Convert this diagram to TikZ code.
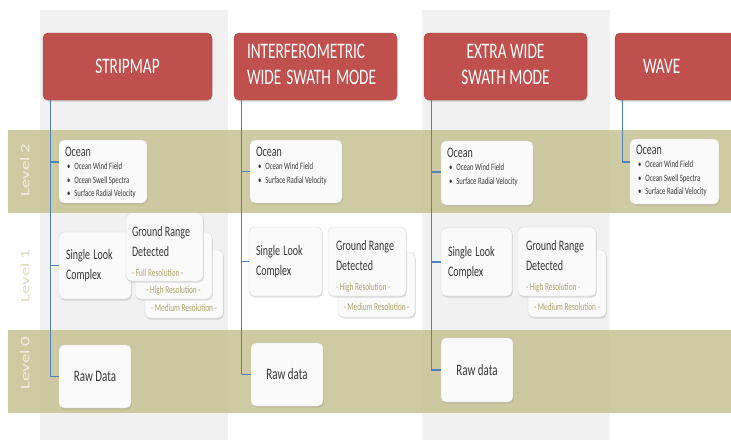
\documentclass[tikz,border=0pt]{standalone}
\usepackage{fontspec}
\setmainfont{Carlito}
\usepackage{graphicx}
\usetikzlibrary{positioning, shadows}
\definecolor{modeRed}{RGB}{192, 80, 77}
\definecolor{levelBand}{RGB}{201, 196, 152}
\definecolor{colGray}{RGB}{241, 241, 241}
\definecolor{linkBlue}{RGB}{79, 129, 189}
\definecolor{resText}{RGB}{172, 163, 105}
\definecolor{bodyText}{RGB}{55, 55, 55}
% the reference text is drawn tall and narrow
\newcommand{\tallt}[1]{\scalebox{1}[1.45]{#1}}
\newcommand{\bul}[1]{\hspace{2pt}\textbullet\hspace{4pt}#1}

\begin{document}
\begin{tikzpicture}[x=1pt, y=-1pt, font=\fontsize{10}{13.8}\selectfont, text=bodyText,
  mode/.style={draw=modeRed!85!black, fill=modeRed, rounded corners=5pt, text=white,
    font=\fontsize{15.3}{18}\selectfont, inner sep=0pt, minimum height=67,
    drop shadow={opacity=0.3, shadow xshift=0.5pt, shadow yshift=-1.5pt}},
  prod/.style={draw=gray!30, fill=white!96!gray, rounded corners=5pt, inner sep=0pt,
    drop shadow={opacity=0.25, shadow xshift=0.8pt, shadow yshift=-1.5pt}},
  oceantxt/.style={inner sep=0pt, font=\fontsize{6.7}{9.3}\selectfont},
  restxt/.style={inner sep=0pt, text=resText, font=\fontsize{7.3}{9}\selectfont},
  lvl/.style={inner sep=0pt, font=\fontsize{13}{15}\selectfont},
  link/.style={draw=linkBlue, line width=1.2pt}]
  \useasboundingbox (0,0) rectangle (731,440);
  \clip (0,0) rectangle (731,440);

  % Gray columns behind the modes
  \foreach \cx in {40, 422}
    \fill[colGray] (\cx,10) rectangle ++(188,430);
  % Level bands
  \foreach \ty/\by in {130/213, 330/413}
    \fill[levelBand, opacity=0.9] (8,\ty) rectangle (731,\by);
  \node[lvl, text=white!72!levelBand] (lev2) at (25,170) {\tallt{\rotatebox{90}{Level 2}}};
  \node[lvl, text=levelBand!62] (lev1) at (25,276) {\tallt{\rotatebox{90}{Level 1}}};
  \node[lvl, text=white!72!levelBand] (lev0) at (25,363) {\tallt{\rotatebox{90}{Level 0}}};

  % Mode headers
  \node[mode, minimum width=169] (stripmap) at (127.5,66.5) {\tallt{STRIPMAP}};
  \node[mode, text width=137, inner xsep=13, align=left] (iw) at (315.5,66.5)
    {\tallt{\begin{tabular}{@{}l@{}}INTERFEROMETRIC\\WIDE SWATH MODE\end{tabular}}};
  \node[mode, minimum width=163] (ew) at (505.5,66.5)
    {\tallt{\begin{tabular}{@{}c@{}}EXTRA WIDE\\SWATH MODE\end{tabular}}};
  \node[mode, text width=90, inner xsep=28, align=left] (wave) at (688,66.5) {\tallt{WAVE}};

  \coordinate (sm-top) at ([xshift=8pt]stripmap.south west);
  \coordinate (iw-top) at ([xshift=8pt]iw.south west);
  \coordinate (ew-top) at ([xshift=8pt]ew.south west);
  \coordinate (wv-top) at ([xshift=8pt]wave.south west);

  % Level 2: ocean products
  \node[prod, minimum width=88, minimum height=63] (ocean1) at (103,171.5) {};
  \node[prod, minimum width=92, minimum height=63] (ocean2) at (296,171.5) {};
  \node[prod, minimum width=92, minimum height=64] (ocean3) at (487,173) {};
  \node[prod, minimum width=89, minimum height=65] (ocean4) at (674.5,171.5) {};
  \node[oceantxt, anchor=north west] (ocean1txt) at ([xshift=6pt, yshift=-7pt]ocean1.north west)
    {\tallt{\begin{tabular}{@{}l@{}}{\fontsize{10}{11}\selectfont Ocean}\\
      \bul{Ocean Wind Field}\\ \bul{Ocean Swell Spectra}\\ \bul{Surface Radial Velocity}\end{tabular}}};
  \node[oceantxt, anchor=north west] (ocean2txt) at ([xshift=6pt, yshift=-7pt]ocean2.north west)
    {\tallt{\begin{tabular}{@{}l@{}}{\fontsize{10}{11}\selectfont Ocean}\\
      \bul{Ocean Wind Field}\\ \bul{Surface Radial Velocity}\end{tabular}}};
  \node[oceantxt, anchor=north west] (ocean3txt) at ([xshift=6pt, yshift=-7pt]ocean3.north west)
    {\tallt{\begin{tabular}{@{}l@{}}{\fontsize{10}{11}\selectfont Ocean}\\
      \bul{Ocean Wind Field}\\ \bul{Surface Radial Velocity}\end{tabular}}};
  \node[oceantxt, anchor=north west] (ocean4txt) at ([xshift=6pt, yshift=-6pt]ocean4.north west)
    {\tallt{\begin{tabular}{@{}l@{}}{\fontsize{10}{11}\selectfont Ocean}\\
      \bul{Ocean Wind Field}\\ \bul{Ocean Swell Spectra}\\ \bul{Surface Radial Velocity}\end{tabular}}};

  % Level 1: single look complex
  \node[prod, minimum height=67, text width=58, inner xsep=7, align=left] (slc1) at (95,265.5)
    {\tallt{\begin{tabular}{@{}l@{}}Single Look\\Complex\end{tabular}}};
  \node[prod, minimum height=69, text width=59, inner xsep=7, align=left] (slc2) at (285.5,261.5)
    {\tallt{\begin{tabular}{@{}l@{}}Single Look\\Complex\end{tabular}}};
  \node[prod, minimum height=68, text width=57, inner xsep=7, align=left] (slc3) at (476.5,262)
    {\tallt{\begin{tabular}{@{}l@{}}Single Look\\Complex\end{tabular}}};

  % Level 1: ground range detected, stacked by resolution
  \node[prod, minimum width=78, minimum height=68] (grd1c) at (184,284) {};
  \node[restxt, above=6pt of grd1c.south] (grd1ctxt) {\tallt{- Medium Resolution -}};
  \node[prod, minimum width=77, minimum height=67] (grd1b) at (173.5,265.5) {};
  \node[restxt, above=4pt of grd1b.south] (grd1btxt) {\tallt{- High Resolution -}};
  \node[prod, minimum width=77, minimum height=68] (grd1) at (164.5,247) {};
  \node[anchor=north west, inner sep=0pt] (grd1txt) at ([xshift=6pt, yshift=-9pt]grd1.north west)
    {\tallt{\begin{tabular}{@{}l@{}}Ground Range\\Detected\\
      {\color{resText}\fontsize{7.3}{9}\selectfont - Full Resolution -}\end{tabular}}};

  \node[prod, minimum width=77, minimum height=65] (grd2b) at (376.5,284.5) {};
  \node[restxt, above=6pt of grd2b.south] (grd2btxt) {\tallt{- Medium Resolution -}};
  \node[prod, minimum width=78, minimum height=69] (grd2) at (367,261.5) {};
  \node[anchor=north west, inner sep=0pt] (grd2txt) at ([xshift=8pt, yshift=-9pt]grd2.north west)
    {\tallt{\begin{tabular}{@{}l@{}}Ground Range\\Detected\\
      {\color{resText}\fontsize{7.3}{9}\selectfont - High Resolution -}\end{tabular}}};

  \node[prod, minimum width=78, minimum height=67] (grd3b) at (567,283.5) {};
  \node[restxt, above=6pt of grd3b.south] (grd3btxt) {\tallt{- Medium Resolution -}};
  \node[prod, minimum width=78, minimum height=69] (grd3) at (557,261.5) {};
  \node[anchor=north west, inner sep=0pt] (grd3txt) at ([xshift=8pt, yshift=-9pt]grd3.north west)
    {\tallt{\begin{tabular}{@{}l@{}}Ground Range\\Detected\\
      {\color{resText}\fontsize{7.3}{9}\selectfont - High Resolution -}\end{tabular}}};

  % Level 0: raw data
  \node[prod, minimum width=72, minimum height=63, font=\fontsize{11}{13}\selectfont] (raw1) at (95,376.5) {\tallt{Raw Data}};
  \node[prod, minimum width=72, minimum height=63, font=\fontsize{11}{13}\selectfont] (raw2) at (287,374.5) {\tallt{Raw data}};
  \node[prod, minimum width=72, minimum height=64, font=\fontsize{11}{13}\selectfont] (raw3) at (477,370) {\tallt{Raw data}};

  % Links from each mode down to its products
  \draw[link] (sm-top) |- ([yshift=9.5pt]ocean1.west);
  \draw[link] (sm-top) |- (slc1.west);
  \draw[link] (sm-top) |- (raw1.west);
  \draw[link] (iw-top) |- (ocean2.west);
  \draw[link] (iw-top) |- (slc2.west);
  \draw[link] (iw-top) |- (raw2.west);
  \draw[link] (ew-top) |- ([yshift=1pt]ocean3.west);
  \draw[link] (ew-top) |- (slc3.west);
  \draw[link] (ew-top) |- (raw3.west);
  \draw[link] (wv-top) |- ([yshift=9.5pt]ocean4.west);
\end{tikzpicture}
\end{document}
